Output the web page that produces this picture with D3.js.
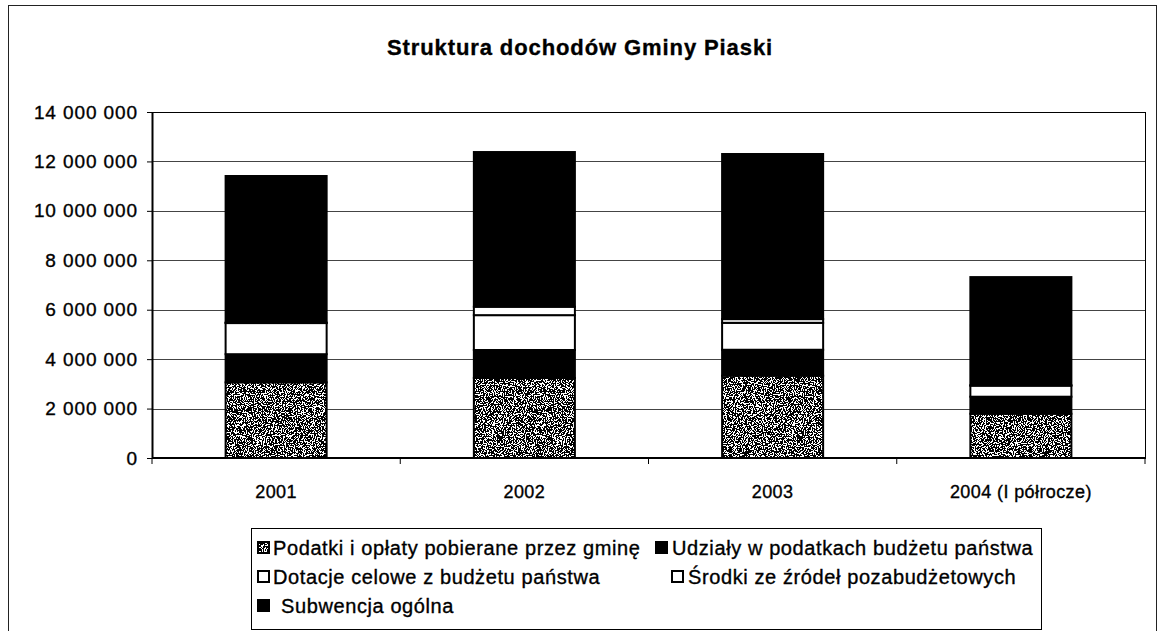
<!DOCTYPE html>
<html>
<head>
<meta charset="utf-8">
<script src="https://cdn.jsdelivr.net/npm/d3@7"></script>
<style>
  body { margin: 0; background: #fff; }
  text { font-family: "Liberation Sans", Arial, sans-serif; fill: #000; stroke: #000; stroke-width: 0.35px; }
</style>
</head>
<body>
<div id="chart"></div>
<script>
// data (PLN)
const years = ["2001", "2002", "2003", "2004 (I półrocze)"];
const seriesNames = [
    "Podatki i opłaty pobierane przez gminę",
    "Udziały w podatkach budżetu państwa",
    "Dotacje celowe z budżetu państwa",
    "Środki ze źródeł pozabudżetowych",
    "Subwencja ogólna"
];
const podatki   = [3060000, 3240000, 3330000, 1790000];
const udzialy   = [1140000, 1130000, 1050000, 690000];
const dotacje   = [1260000, 1410000, 1090000, 450000];
const srodki    = [20000, 340000, 150000, 10000];
const subwencja = [5930000, 6260000, 6680000, 4380000];
const yTicks = [0, 2000000, 4000000, 6000000, 8000000, 10000000, 12000000, 14000000];

const W = 1159, H = 631;
const plot = { left: 152, right: 1145, top: 112, bottom: 458 };

const svg = d3.select("#chart").append("svg")
    .attr("width", W)
    .attr("height", H);

// speckled fill for the first series
const defs = svg.append("defs");
const noise = defs.append("filter").attr("id", "noise")
    .attr("x", 0).attr("y", 0).attr("width", "100%").attr("height", "100%");
noise.append("feTurbulence")
    .attr("type", "fractalNoise")
    .attr("baseFrequency", 0.9)
    .attr("numOctaves", 2)
    .attr("seed", 3)
    .attr("result", "t");
noise.append("feColorMatrix")
    .attr("type", "matrix")
    .attr("values", "0 0 0 0 0  0 0 0 0 0  0 0 0 0 0  1.6 0 0 0 -0.25");
const ct = noise.append("feComponentTransfer");
ct.append("feFuncA").attr("type", "discrete").attr("tableValues", "0 1");

const pat = defs.append("pattern").attr("id", "speckle")
    .attr("patternUnits", "userSpaceOnUse")
    .attr("width", 300).attr("height", 300);
pat.append("rect").attr("width", 300).attr("height", 300).attr("fill", "#fff");
pat.append("rect").attr("width", 300).attr("height", 300).attr("fill", "#000").attr("filter", "url(#noise)");

const fills = ["url(#speckle)", "#000", "#fff", "#fff", "#000"];

// outer chart frame
svg.append("rect")
    .attr("x", 8.5).attr("y", 5.5)
    .attr("width", 1148).attr("height", 640)
    .attr("fill", "none")
    .attr("stroke", "#222")
    .attr("stroke-width", 1);

// title
svg.append("text")
    .attr("x", 580)
    .attr("y", 55)
    .attr("text-anchor", "middle")
    .style("font-size", "22px")
    .style("font-weight", "bold")
    .style("letter-spacing", "0.9px")
    .text("Struktura dochodów Gminy Piaski");

const x = d3.scaleBand()
    .domain(years)
    .range([plot.left, plot.right])
    .paddingInner(0.593)
    .paddingOuter(0.2965);

const y = d3.scaleLinear()
    .domain([0, 14000000])
    .range([plot.bottom, plot.top]);

const pl = d3.formatLocale({ decimal: ",", thousands: "\u00a0", grouping: [3], currency: ["", ""] });
const fmt = pl.format(",d");

// gridlines
svg.append("g").selectAll("line")
    .data(yTicks.slice(1, -1))
    .enter().append("line")
    .attr("x1", plot.left).attr("x2", plot.right)
    .attr("y1", d => Math.round(y(d)) + 0.5)
    .attr("y2", d => Math.round(y(d)) + 0.5)
    .attr("stroke", "#444")
    .attr("stroke-width", 1);

// plot border
svg.append("rect")
    .attr("x", plot.left + 0.5).attr("y", plot.top + 0.5)
    .attr("width", plot.right - plot.left)
    .attr("height", plot.bottom - plot.top)
    .attr("fill", "none")
    .attr("stroke", "#000")
    .attr("stroke-width", 1);

// stacked bars
const table = years.map((yr, i) => ({
    year: yr,
    s0: podatki[i], s1: udzialy[i], s2: dotacje[i], s3: srodki[i], s4: subwencja[i]
}));
const stack = d3.stack().keys(["s0", "s1", "s2", "s3", "s4"]);
const layers = stack(table);

svg.append("g").selectAll("g")
    .data(layers)
    .enter().append("g")
    .attr("fill", (d, i) => fills[i])
    .selectAll("rect")
    .data(d => d)
    .enter().append("rect")
    .attr("x", d => x(d.data.year))
    .attr("y", d => y(d[1]))
    .attr("width", x.bandwidth())
    .attr("height", d => Math.max(0, y(d[0]) - y(d[1])))
    .attr("stroke", "#000")
    .attr("stroke-width", 2);

// y axis
const yAxis = d3.axisLeft(y)
    .tickValues(yTicks)
    .tickFormat(fmt)
    .tickSize(5)
    .tickSizeOuter(0);
const gy = svg.append("g")
    .attr("transform", `translate(${plot.left},0)`)
    .call(yAxis);
gy.select(".domain").attr("stroke", "#000").attr("stroke-width", 2);
gy.selectAll(".tick line").attr("stroke", "#000");
gy.selectAll(".tick text")
    .attr("x", -14)
    .style("font-size", "19px")
    .style("letter-spacing", "0.9px")
    .style("font-family", "'Liberation Sans', Arial, sans-serif");

// x axis line + ticks between categories
svg.append("line")
    .attr("x1", plot.left).attr("x2", plot.right)
    .attr("y1", plot.bottom).attr("y2", plot.bottom)
    .attr("stroke", "#000").attr("stroke-width", 2);

const bounds = years.map(d => x(d) - x.step() * x.paddingInner() / 2).concat([plot.right]);
svg.append("g").selectAll("line")
    .data(bounds)
    .enter().append("line")
    .attr("x1", d => d).attr("x2", d => d)
    .attr("y1", plot.bottom).attr("y2", plot.bottom + 6)
    .attr("stroke", "#000");

svg.append("g").selectAll("text")
    .data(years)
    .enter().append("text")
    .attr("x", d => x(d) + x.bandwidth() / 2)
    .attr("y", 498)
    .attr("text-anchor", "middle")
    .style("font-size", "18px")
    .style("letter-spacing", "0.4px")
    .text(d => d);

// legend
const legend = { x: 251, y: 528, w: 790, h: 101 };
svg.append("rect")
    .attr("x", legend.x + 0.5).attr("y", legend.y + 0.5)
    .attr("width", legend.w).attr("height", legend.h)
    .attr("fill", "#fff")
    .attr("stroke", "#000");

const legendPos = [
    { sx: 258, tx: 273, row: 0 },
    { sx: 656, tx: 672, row: 0 },
    { sx: 258, tx: 273, row: 1 },
    { sx: 672, tx: 688, row: 1 },
    { sx: 258, tx: 281, row: 2 }
];
const rowY = [548, 577, 606];

seriesNames.forEach((name, i) => {
    const p = legendPos[i];
    svg.append("rect")
        .attr("x", p.sx).attr("y", rowY[p.row] - 6)
        .attr("width", 11).attr("height", 11)
        .attr("fill", fills[i])
        .attr("stroke", "#000")
        .attr("stroke-width", 2);
    svg.append("text")
        .attr("x", p.tx)
        .attr("y", rowY[p.row] + 7)
        .style("font-size", "20px")
        .style("letter-spacing", "0.6px")
        .text(name);
});
</script>
</body>
</html>
